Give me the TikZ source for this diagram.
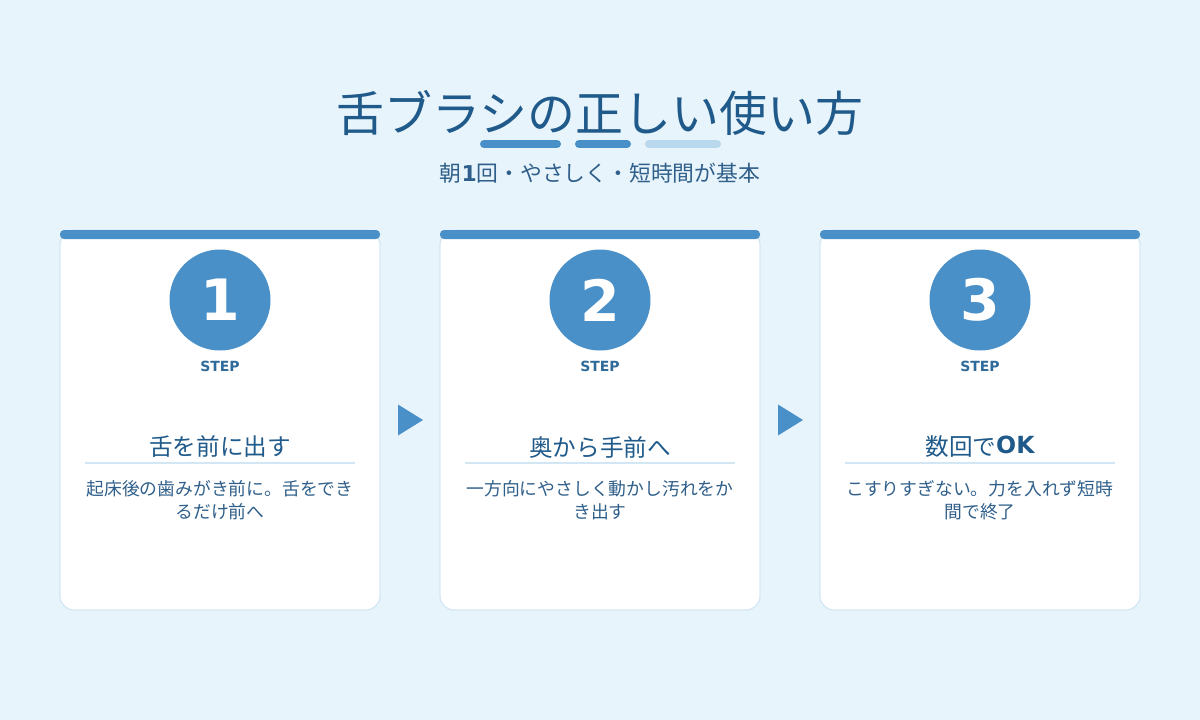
\documentclass[tikz,border=0pt]{standalone}
\usepackage{fontspec}
\setmainfont{Noto Sans CJK JP}
\newfontfamily\latinbold{DejaVu Sans}[BoldFont={DejaVu Sans Bold}]
\definecolor{bgc}{HTML}{E8F4FB}
\definecolor{mainblue}{HTML}{4A90C8}
\definecolor{darkblue}{HTML}{1F5A8A}
\definecolor{textblue}{HTML}{2F5F8A}
\definecolor{lineblue}{HTML}{D3E6F3}
\definecolor{paleblue}{HTML}{B8D8EC}
\definecolor{stepblue}{HTML}{2F6B9A}
\begin{document}
\begin{tikzpicture}[x=1pt,y=-1pt,
  card/.style={fill=white,draw=lineblue,line width=0.8pt,rounded corners=14pt},
  topbar/.style={fill=mainblue,rounded corners=4pt},
  numcircle/.style={circle,fill=mainblue,minimum size=101pt,inner sep=0pt,text=white,font=\latinbold\bfseries\fontsize{57}{60}\selectfont},
  steplabel/.style={text=stepblue,font=\latinbold\bfseries\fontsize{14}{16}\selectfont,inner sep=0pt},
  cardtitle/.style={text=darkblue,font=\fontsize{23.6}{28}\selectfont,inner sep=0pt},
  desc/.style={text=textblue,font=\fontsize{17.8}{23}\selectfont,inner sep=0pt,align=center},
  sepline/.style={draw=lineblue,line width=2pt},
  stepmark/.style={fill=mainblue},
  bar/.style={line width=8pt,line cap=round}
]
\useasboundingbox (0,0) rectangle (1200,720);
\fill[bgc] (0,0) rectangle (1200,720);

% title
\node[text=darkblue,font=\fontsize{48}{56}\selectfont,inner sep=0pt] (title) at (600,113) {舌ブラシの正しい使い方};
\coordinate (b1a) at (484,144); \coordinate (b1b) at (557,144);
\coordinate (b2a) at (579,144); \coordinate (b2b) at (627,144);
\coordinate (b3a) at (649,144); \coordinate (b3b) at (717,144);
\draw[bar,mainblue] (b1a) -- (b1b);
\draw[bar,mainblue] (b2a) -- (b2b);
\draw[bar,paleblue] (b3a) -- (b3b);
\node[text=textblue,font=\fontsize{21.8}{24}\selectfont,inner sep=0pt] (subtitle) at (600,173) {朝{\latinbold\bfseries 1}回・やさしく・短時間が基本};

% cards
\foreach \cx/\n in {220/1,600/2,980/3}{
  \fill[card] (\cx-160,230) rectangle (\cx+160,610);
  \draw[lineblue,line width=0.8pt,rounded corners=14pt] (\cx-160,232) rectangle (\cx+160,610);
  \fill[topbar] (\cx-160,230) rectangle (\cx+160,239);
  \node[numcircle] (c\n) at (\cx,300) {\n};
  \node[steplabel] (s\n) at (\cx,366) {STEP};
  \draw[sepline] (\cx-135,463) -- (\cx+135,463);
}

\node[cardtitle] (t1) at (220,447) {舌を前に出す};
\node[cardtitle] (t2) at (600,447) {奥から手前へ};
\node[cardtitle] (t3) at (980,447) {数回で{\latinbold\bfseries\raisebox{2pt}{OK}}};

\node[desc] (d1) at (220,500) {起床後の歯みがき前に。舌をでき\\るだけ前へ};
\node[desc] (d2) at (600,500) {一方向にやさしく動かし汚れをか\\き出す};
\node[desc] (d3) at (980,500) {こすりすぎない。力を入れず短時\\間で終了};

% arrows between cards
\coordinate (a1) at (410,420);
\coordinate (a2) at (790,420);
\foreach \a in {a1,a2}{
  \fill[stepmark] ([xshift=-12pt,yshift=-15.5pt]\a) -- ([xshift=13pt]\a) -- ([xshift=-12pt,yshift=15.5pt]\a) -- cycle;
}
\end{tikzpicture}
\end{document}
